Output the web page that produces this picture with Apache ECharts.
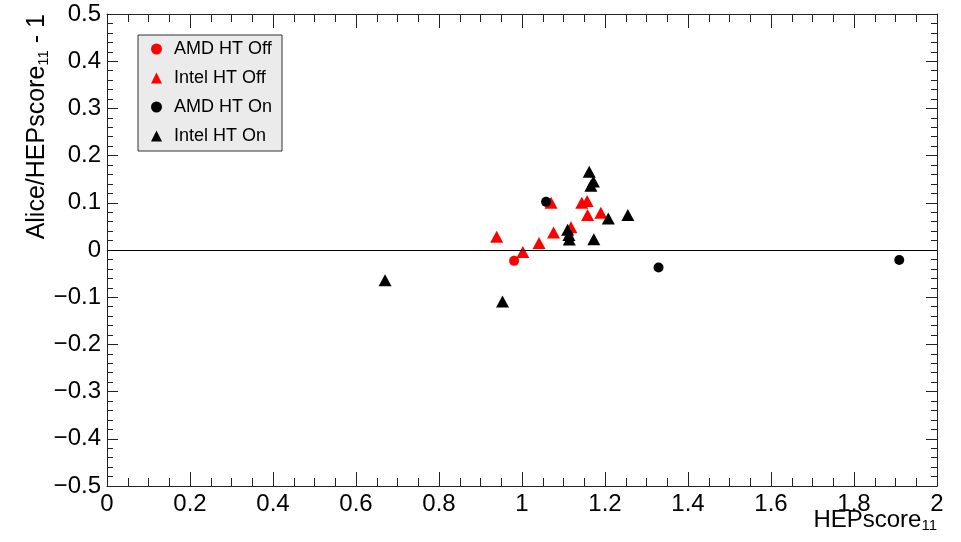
<!DOCTYPE html>
<html>
<head>
<meta charset="utf-8">
<script src="https://cdn.jsdelivr.net/npm/echarts@6/dist/echarts.min.js"></script>
<style>
  html, body { margin: 0; padding: 0; background: #fff; }
  #chart { width: 961px; height: 542px; }
</style>
</head>
<body>
<div id="chart"></div>
<script>
// points as [HEPscore11, Alice/HEPscore11 - 1]
const amdHtOff = [[0.981, -0.023]];
const intelHtOff = [
    [0.939, 0.028], [1.002, -0.004], [1.041, 0.015], [1.076, 0.037],
    [1.118, 0.048], [1.070, 0.100], [1.144, 0.100], [1.157, 0.104],
    [1.158, 0.074], [1.190, 0.079]
];
const amdHtOn = [[1.058, 0.102], [1.329, -0.037], [1.909, -0.021]];
const intelHtOn = [
    [1.162, 0.166], [1.172, 0.145], [1.166, 0.136], [1.208, 0.067],
    [1.255, 0.074], [1.110, 0.043], [1.113, 0.032], [1.114, 0.022],
    [1.173, 0.023], [0.953, -0.109], [0.670, -0.064]
];
const seriesNames = ['AMD HT Off', 'Intel HT Off', 'AMD HT On', 'Intel HT On'];

const font = 'Liberation Sans, Arial, sans-serif';
const frame = '#222';

let myChart = echarts.init(document.getElementById('chart'));

function mkSeries(name, data, symbol, color, size) {
    return {
        name: name,
        type: 'scatter',
        data: data,
        symbol: symbol,
        symbolSize: size,
        itemStyle: {color: color, opacity: 1},
        emphasis: {disabled: true},
        animation: false
    };
}

let series = [
    mkSeries(seriesNames[0], amdHtOff, 'circle', '#ff0000', 10),
    mkSeries(seriesNames[1], intelHtOff, 'triangle', '#ff0000', [13, 12]),
    mkSeries(seriesNames[2], amdHtOn, 'circle', '#000000', 10),
    mkSeries(seriesNames[3], intelHtOn, 'triangle', '#000000', [13, 12])
];
// horizontal line at zero
series[0].markLine = {
    silent: true,
    symbol: 'none',
    label: {show: false},
    lineStyle: {color: '#000', width: 1, type: 'solid'},
    data: [{yAxis: 0}]
};

let option = {
    backgroundColor: '#fff',
    animation: false,
    grid: {left: 107, right: 24, top: 14, bottom: 56, outerBoundsMode: 'none', containLabel: false},
    legend: {
        orient: 'vertical',
        left: 138,
        top: 35,
        data: seriesNames,
        backgroundColor: '#ebebeb',
        borderColor: '#333',
        borderWidth: 1,
        borderRadius: 0,
        padding: [4, 10, 5, 13],
        itemWidth: 11,
        itemHeight: 11,
        itemGap: 9,
        itemStyle: {opacity: 1},
        textStyle: {fontFamily: font, fontSize: 18, color: '#000', lineHeight: 20, padding: [0, 0, 0, 7]}
    },
    // x axis title, right aligned under the axis end
    graphic: [{
        type: 'text',
        right: 24,
        top: 508,
        silent: true,
        style: {
            text: '{m|HEPscore}{s|11}',
            rich: {
                m: {fontFamily: font, fontSize: 24, fill: '#000'},
                s: {fontFamily: font, fontSize: 15, fill: '#000', padding: [12, 0, 0, 0]}
            }
        }
    }],
    xAxis: [{
        type: 'value',
        min: 0, max: 2, interval: 0.2,
        axisLine: {show: true, onZero: false, lineStyle: {color: frame, width: 1}},
        axisTick: {inside: true, length: 14, lineStyle: {color: frame}},
        minorTick: {show: true, splitNumber: 4, length: 8, lineStyle: {color: frame}},
        splitLine: {show: false},
        axisLabel: {
            fontFamily: font, fontSize: 24, color: '#000', margin: 6,
            formatter: v => (Math.abs(v) < 1e-9 ? '0' : String(+v.toFixed(1)))
        }
    }, {
        type: 'value',
        position: 'top',
        min: 0, max: 2, interval: 0.2,
        axisLine: {show: true, onZero: false, lineStyle: {color: frame, width: 1}},
        axisTick: {inside: true, length: 14, lineStyle: {color: frame}},
        minorTick: {show: true, splitNumber: 4, length: 8, lineStyle: {color: frame}},
        splitLine: {show: false},
        axisLabel: {show: false}
    }],
    yAxis: [{
        type: 'value',
        min: -0.5, max: 0.5, interval: 0.1,
        name: '{m|Alice/HEPscore}{s|11}{m| - 1}',
        nameLocation: 'end',
        nameRotate: 90,
        nameGap: 0,
        nameTextStyle: {
            align: 'right',
            verticalAlign: 'bottom',
            padding: [0, 0, 56, 0],
            rich: {
                m: {fontFamily: font, fontSize: 25, color: '#000'},
                s: {fontFamily: font, fontSize: 15, color: '#000', padding: [12, 0, 0, 0]}
            }
        },
        axisLine: {show: true, onZero: false, lineStyle: {color: frame, width: 1}},
        axisTick: {inside: true, length: 11, lineStyle: {color: frame}},
        minorTick: {show: true, splitNumber: 5, length: 6, lineStyle: {color: frame}},
        splitLine: {show: false},
        axisLabel: {
            fontFamily: font, fontSize: 24, color: '#000', margin: 6,
            formatter: v => {
                if (Math.abs(v) < 1e-9) return '0';
                let s = (+v.toFixed(1)).toFixed(1);
                return s.replace('-', '\u2212');
            }
        }
    }, {
        type: 'value',
        position: 'right',
        min: -0.5, max: 0.5, interval: 0.1,
        axisLine: {show: true, onZero: false, lineStyle: {color: frame, width: 1}},
        axisTick: {inside: true, length: 11, lineStyle: {color: frame}},
        minorTick: {show: true, splitNumber: 5, length: 6, lineStyle: {color: frame}},
        splitLine: {show: false},
        axisLabel: {show: false}
    }],
    series: series
};

myChart.setOption(option, true);
</script>
</body>
</html>
